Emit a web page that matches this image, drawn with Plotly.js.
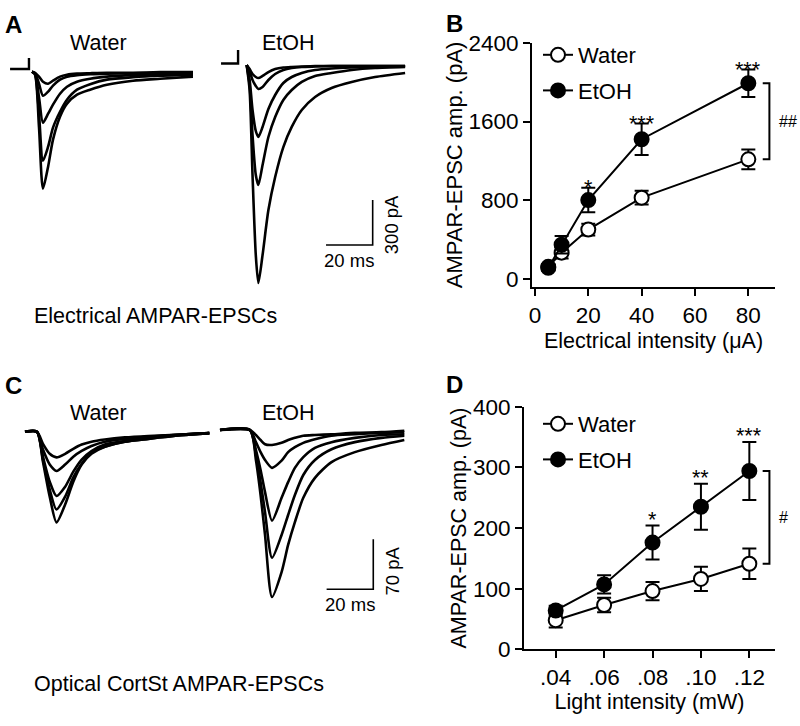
<!DOCTYPE html>
<html>
<head>
<meta charset="utf-8">
<script src="https://cdn.plot.ly/plotly-3.0.1.min.js"></script>
<style>body{margin:0;background:#fff}</style>
</head>
<body>
<div id="fig" style="width:800px;height:726px"></div>
<script>
// A: electrical AMPAR-EPSC traces (time in ms, current in pA)
var aTimeW = [0, 1.3, 3.0, 4.7, 6.9, 9.0, 12.0, 15.0, 19.3, 24.9, 32.1, 43.3, 54.9, 69.0];
var aWater1 = [0, -7, -33, -67, -80, -60, -33, -20, -13, -10, -7, -7, -3, -3];
var aWater2 = [0, -10, -80, -160, -133, -93, -53, -33, -23, -17, -13, -10, -7, -7];
var aWater3 = [0, -13, -170, -340, -280, -220, -147, -100, -67, -47, -33, -23, -20, -13];
var aWater4 = [0, -17, -280, -593, -500, -373, -267, -187, -120, -83, -53, -37, -27, -20];
var aWater5 = [0, -20, -370, -780, -633, -453, -300, -213, -153, -120, -87, -60, -47, -33];

var aTimeE = [0, 1.25, 2.5, 3.9, 5.0, 6.8, 9.3, 12.2, 15.7, 19.3, 23.6, 29.3, 36.4, 45.0, 55.0, 67.9];
var aEtoh1 = [0, -27, -60, -80, -87, -73, -47, -27, -17, -13, -10, -7, -7, -7, -7, -7];
var aEtoh2 = [0, -40, -100, -140, -160, -147, -100, -60, -33, -20, -13, -10, -7, -7, -7, -7];
var aEtoh3 = [0, -100, -300, -440, -480, -413, -293, -200, -120, -80, -53, -33, -23, -17, -13, -10];
var aEtoh4 = [0, -133, -467, -733, -800, -667, -480, -347, -233, -167, -113, -73, -53, -33, -20, -13];
var aEtoh5 = [0, -167, -733, -1267, -1453, -1267, -967, -747, -547, -413, -300, -213, -153, -113, -80, -53];

// stimulus artifacts before the traces
var artWaterT = [-9.4, -1.3, -1.3];
var artWaterI = [18, 18, 91];
var artEtohT = [-11.0, -3.7, -3.7];
var artEtohI = [10, 10, 100];

// C: optical CortSt AMPAR-EPSC traces
var cTimeW = [0, 5.1, 7.7, 10.6, 13.5, 17.2, 20.7, 24.3, 28.5, 34.2, 42.8, 52.8, 67.1, 79.0];
var cWater1 = [0, 0, -17, -31, -36, -31, -24, -18, -14, -11, -8, -6, -4, -2];
var cWater2 = [0, 0, -25, -46, -55, -46, -35, -27, -20, -14, -10, -7, -4, -2];
var cWater3 = [0, 0, -35, -70, -90, -77, -56, -39, -27, -18, -13, -8, -4, -2];
var cWater4 = [0, 0, -39, -81, -109, -91, -64, -45, -29, -21, -14, -10, -5, -2];
var cWater5 = [0, 0, -42, -91, -127, -102, -70, -46, -31, -21, -14, -10, -5, -2];

var cTimeE = [0, 12.8, 15.4, 17.4, 19.3, 22.3, 26.4, 29.2, 32.1, 35.7, 40.7, 47.8, 57.8, 69.2, 79.0];
var cEtoh1 = [0, 0, -7, -14, -20, -21, -18, -14, -11, -8, -7, -6, -4, -3, -1];
var cEtoh2 = [0, 0, -17, -31, -42, -53, -43, -31, -24, -18, -13, -8, -6, -4, -3];
var cEtoh3 = [0, 0, -28, -56, -87, -127, -95, -73, -53, -38, -25, -17, -11, -7, -6];
var cEtoh4 = [0, 0, -35, -73, -115, -179, -147, -119, -91, -63, -42, -27, -17, -11, -8];
var cEtoh5 = [0, 0, -42, -91, -147, -234, -199, -161, -129, -95, -67, -45, -31, -21, -14];

// B: amplitude vs electrical intensity
var bX = [5, 10, 20, 40, 80];
var bWater = [120, 265, 500, 825, 1215];
var bWaterErr = [30, 60, 60, 70, 100];
var bEtoh = [110, 345, 800, 1420, 1990];
var bEtohErr = [30, 90, 125, 160, 140];
var bStarX = [20, 40, 80];
var bStars = ['*', '***', '***'];

// D: amplitude vs light intensity
var dX = [0.04, 0.06, 0.08, 0.10, 0.12];
var dTicks = ['.04', '.06', '.08', '.10', '.12'];
var dWater = [48, 73, 96, 116, 141];
var dWaterErr = [12, 12, 15, 20, 25];
var dEtoh = [64, 107, 176, 235, 294];
var dEtohErr = [8, 15, 28, 38, 48];
var dStarX = [0.08, 0.10, 0.12];
var dStars = ['*', '**', '***'];

var FONT = 'Liberation Sans, Arial, sans-serif';
var W = 800, H = 726;

function xdom(a, b) { return [a / W, b / W]; }
function ydom(top, bot) { return [1 - bot / H, 1 - top / H]; }
// hidden axes for the traces, scaled in px per unit
function hx(a, b, origin, k) {
    return {domain: xdom(a, b), range: [(a - origin) / k, (b - origin) / k], visible: false, fixedrange: true};
}
function hy(top, bot, base, k) {
    return {domain: ydom(top, bot), range: [(base - bot) / k, (base - top) / k], visible: false, fixedrange: true};
}

var data = [];
function addTraces(t, list, xa, ya) {
    list.forEach(function (cur) {
        data.push({x: t, y: cur, xaxis: xa, yaxis: ya, mode: 'lines', type: 'scatter',
            line: {color: 'black', width: 2.6, shape: 'spline', smoothing: 0.7},
            showlegend: false, hoverinfo: 'skip'});
    });
}
addTraces(aTimeW, [aWater1, aWater2, aWater3, aWater4, aWater5], 'x', 'y');
addTraces(aTimeE, [aEtoh1, aEtoh2, aEtoh3, aEtoh4, aEtoh5], 'x2', 'y2');
addTraces(cTimeW, [cWater1, cWater2, cWater3, cWater4, cWater5], 'x4', 'y4');
addTraces(cTimeE, [cEtoh1, cEtoh2, cEtoh3, cEtoh4, cEtoh5], 'x5', 'y5');

data.push({x: artWaterT, y: artWaterI, xaxis: 'x', yaxis: 'y', mode: 'lines',
    line: {color: 'black', width: 2.4}, showlegend: false});
data.push({x: artEtohT, y: artEtohI, xaxis: 'x2', yaxis: 'y2', mode: 'lines',
    line: {color: 'black', width: 2.4}, showlegend: false});

// scale bars (20 ms / 300 pA and 20 ms / 70 pA)
var scaleA = {t: 34.0, i: -1200, dt: 20, di: 300};
var scaleC = {t: 45.7, i: -223, dt: 20, di: 70};
function scaleBar(s, xa, ya) {
    data.push({x: [s.t, s.t + s.dt, s.t + s.dt], y: [s.i, s.i, s.i + s.di], xaxis: xa, yaxis: ya,
        mode: 'lines', line: {color: 'black', width: 1.6}, showlegend: false});
}
scaleBar(scaleA, 'x2', 'y2');
scaleBar(scaleC, 'x5', 'y5');

function series(x, y, err, name, fill, xa, ya, leg) {
    return {x: x, y: y, name: name, xaxis: xa, yaxis: ya, legend: leg, legendgroup: leg + name,
        type: 'scatter', mode: 'lines+markers', cliponaxis: false,
        error_y: {type: 'data', array: err, visible: true, color: 'black', thickness: 2, width: 7},
        line: {color: 'black', width: 2},
        marker: {symbol: 'circle', size: 14, color: fill, line: {color: 'black', width: 2}}};
}
data.push(series(bX, bWater, bWaterErr, 'Water', 'white', 'x3', 'y3', 'legend'));
data.push(series(bX, bEtoh, bEtohErr, 'EtOH', 'black', 'x3', 'y3', 'legend'));
data.push(series(dX, dWater, dWaterErr, 'Water', 'white', 'x6', 'y6', 'legend2'));
data.push(series(dX, dEtoh, dEtohErr, 'EtOH', 'black', 'x6', 'y6', 'legend2'));

function chartAxis(dom, range, extra) {
    var ax = {domain: dom, range: range, showline: true, linewidth: 2, linecolor: 'black',
        ticks: 'outside', ticklen: 7, tickwidth: 2, tickcolor: 'black', showgrid: false,
        zeroline: false, fixedrange: true, tickfont: {size: 22.5}};
    for (var k in extra) ax[k] = extra[k];
    return ax;
}

var annotations = [];
function txt(x, y, text, size, opts) {
    var a = {xref: 'paper', yref: 'paper', x: x / W, y: 1 - y / H, text: text, showarrow: false,
        font: {size: size}, xanchor: 'center', yanchor: 'middle'};
    for (var k in opts) a[k] = opts[k];
    annotations.push(a);
}
txt(13, 25, '<b>A</b>', 24);
txt(454, 23, '<b>B</b>', 24);
txt(13, 385, '<b>C</b>', 24);
txt(454, 384, '<b>D</b>', 24);
txt(98, 43, 'Water', 21.5);
txt(288, 43, 'EtOH', 21.5);
txt(98, 413, 'Water', 21.5);
txt(288, 413, 'EtOH', 21.5);
txt(32, 316, 'Electrical AMPAR-EPSCs', 21.5, {xanchor: 'left'});
txt(32, 684, 'Optical CortSt AMPAR-EPSCs', 21.5, {xanchor: 'left'});

// scale bar labels
function scaleLabels(s, xa, ya, vText, vShift) {
    annotations.push({xref: xa, yref: ya, x: s.t + s.dt / 2, y: s.i, text: '20 ms', showarrow: false,
        yanchor: 'top', yshift: -3, font: {size: 18.5}});
    annotations.push({xref: xa, yref: ya, x: s.t + s.dt, y: s.i + s.di / 2, text: vText, showarrow: false,
        textangle: -90, xshift: 19, yshift: vShift, font: {size: 18.5}});
}
scaleLabels(scaleA, 'x2', 'y2', '300 pA', -2);
scaleLabels(scaleC, 'x5', 'y5', '70 pA', -7);

// significance stars above the EtOH error bars
function stars(xs, labels, x, y, err, xa, ya, shift) {
    xs.forEach(function (v, j) {
        var i = x.indexOf(v);
        annotations.push({xref: xa, yref: ya, x: v, y: y[i] + err[i], text: labels[j], showarrow: false,
            yanchor: 'bottom', yshift: shift, font: {size: 21.5}});
    });
}
stars(bStarX, bStars, bX, bEtoh, bEtohErr, 'x3', 'y3', -14);
stars(dStarX, dStars, dX, dEtoh, dEtohErr, 'x6', 'y6', -8);

// group brackets with # marks
var n = bX.length - 1;
var shapes = [
    {type: 'path', xref: 'x3', yref: 'y3', line: {color: 'black', width: 2},
        path: 'M85.4,' + bEtoh[n] + ' L87.9,' + bEtoh[n] + ' L87.9,' + bWater[n] + ' L85.4,' + bWater[n]},
    {type: 'path', xref: 'x6', yref: 'y6', line: {color: 'black', width: 2},
        path: 'M0.1255,' + dEtoh[n] + ' L0.1283,' + dEtoh[n] + ' L0.1283,' + dWater[n] + ' L0.1255,' + dWater[n]}
];
annotations.push({xref: 'paper', yref: 'y3', x: 777 / W, y: (bEtoh[n] + bWater[n]) / 2, text: '##',
    showarrow: false, xanchor: 'left', font: {size: 16}});
annotations.push({xref: 'paper', yref: 'y6', x: 777 / W, y: (dEtoh[n] + dWater[n]) / 2, text: '#',
    showarrow: false, xanchor: 'left', font: {size: 16}});

var legendBase = {xanchor: 'left', yanchor: 'top', bgcolor: 'rgba(0,0,0,0)',
    font: {size: 22}, itemwidth: 30, tracegroupgap: 4};

var layout = {
    width: W, height: H, autosize: false,
    margin: {l: 0, r: 0, t: 0, b: 0},
    paper_bgcolor: 'white', plot_bgcolor: 'rgba(0,0,0,0)',
    font: {family: FONT, color: 'black', size: 22},
    xaxis: hx(0, 205, 32, 2.333), yaxis: hy(40, 300, 71.7, 0.15),
    xaxis2: hx(205, 410, 246.7, 2.333), yaxis2: hy(40, 300, 65, 0.15),
    xaxis4: hx(0, 212, 25, 2.333), yaxis4: hy(395, 650, 431.7, 0.714),
    xaxis5: hx(212, 410, 220, 2.333), yaxis5: hy(395, 650, 430, 0.714),
    xaxis3: chartAxis(xdom(532, 775), [-1.1, 90], {anchor: 'y3', tickvals: [0, 20, 40, 60, 80],
        title: {text: 'Electrical intensity (\u03bcA)', font: {size: 21.5}, standoff: 6}}),
    yaxis3: chartAxis(ydom(43, 286.7), [-82, 2400], {anchor: 'x3', tickvals: [0, 800, 1600, 2400],
        title: {text: 'AMPAR-EPSC amp. (pA)', font: {size: 22}, standoff: 0}}),
    xaxis6: chartAxis(xdom(524, 775), [0.0269, 0.1306], {anchor: 'y6', tickvals: dX, ticktext: dTicks,
        title: {text: 'Light intensity (mW)', font: {size: 21.5}, standoff: 4}}),
    yaxis6: chartAxis(ydom(406.7, 649.3), [0, 400], {anchor: 'x6', tickvals: [0, 100, 200, 300, 400],
        title: {text: 'AMPAR-EPSC amp. (pA)', font: {size: 21.5}, standoff: 0}}),
    legend: Object.assign({x: 538 / W, y: 1 - 34 / H}, legendBase),
    legend2: Object.assign({x: 538 / W, y: 1 - 403 / H}, legendBase),
    annotations: annotations,
    shapes: shapes
};

Plotly.newPlot('fig', data, layout, {staticPlot: true});
</script>
</body>
</html>
